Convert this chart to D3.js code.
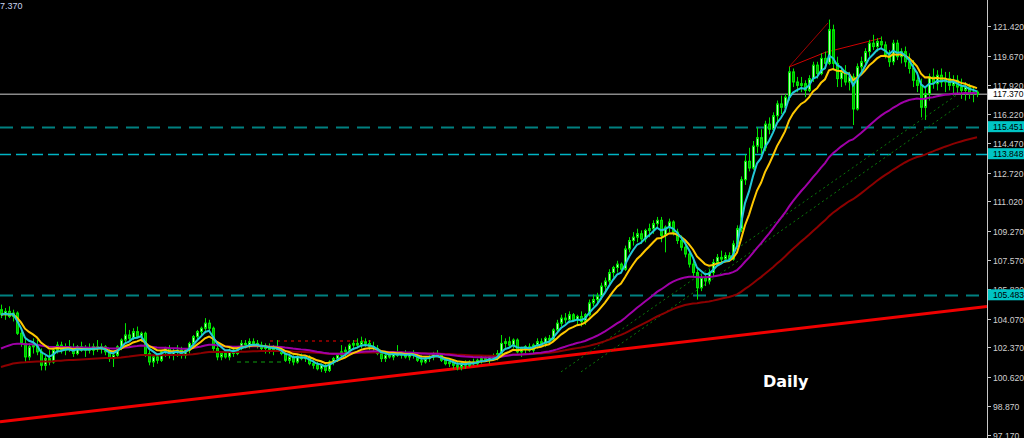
<!DOCTYPE html>
<html><head><meta charset="utf-8">
<script src="https://cdn.jsdelivr.net/npm/d3@7"></script>
<style>html,body{margin:0;padding:0;background:#000;}svg{display:block;}</style>
</head><body>
<script>
// ---------------- DATA ----------------
const opens = [104.6,104.3,104.5,104.2,104.4,103.2,102.6,101.8,102.4,102.5,102.1,101.3,101.7,101.5,102.2,102.5,102.2,102.4,102.3,102.0,102.4,102.2,102.3,102.2,102.4,
102.3,102.4,102.1,101.7,101.9,102.4,102.8,103.1,102.9,103.3,103.0,103.2,102.0,101.5,101.8,101.6,102.1,102.3,101.9,102.1,102.2,101.9,102.2,102.6,103.0,
103.3,103.5,103.8,103.5,102.3,101.8,102.0,101.8,102.2,102.0,102.3,102.6,102.5,102.7,102.6,102.5,102.3,102.4,102.2,102.3,102.2,102.0,101.6,101.8,101.5,
101.8,101.7,101.8,101.4,101.3,101.1,101.3,101.0,101.5,101.7,101.9,102.1,102.2,102.5,102.6,102.5,102.7,102.6,102.4,102.3,102.0,101.7,101.9,101.8,102.0,
101.9,102.0,101.8,102.0,101.9,101.6,101.5,101.7,101.8,102.0,101.9,101.6,101.4,101.5,101.3,101.2,101.4,101.3,101.5,101.4,101.6,101.7,101.6,101.8,101.7,
102.0,102.6,102.7,102.5,102.8,102.1,102.3,102.4,102.2,102.5,102.7,102.6,102.9,102.8,103.4,103.8,104.1,104.0,104.3,104.0,104.2,103.9,104.3,105.0,105.2,
105.4,106.0,106.3,106.8,107.1,107.3,107.0,108.2,108.7,108.9,109.1,108.8,109.3,109.4,109.7,109.9,109.0,109.5,109.8,109.2,108.7,108.3,107.9,107.3,106.8,
105.9,106.5,106.3,106.8,107.4,107.7,107.6,107.8,107.6,108.5,109.4,112.3,113.4,113.0,114.3,114.8,114.2,115.6,115.3,116.1,116.8,116.6,117.2,118.7,118.1,
117.9,118.0,117.6,118.3,119.1,118.6,119.5,119.2,121.2,119.2,118.3,118.7,118.1,118.4,116.5,119.0,119.3,119.9,120.4,120.2,120.5,120.3,119.7,119.3,120.4,
119.6,119.9,119.3,118.9,118.2,117.9,116.6,117.4,118.4,118.0,118.5,118.1,118.3,117.9,118.2,117.8,117.6,117.8,117.4,117.5];
const highs = [104.9,104.7,104.8,104.6,104.5,103.4,102.9,102.6,102.9,102.8,102.3,101.9,102.2,102.4,102.7,102.7,102.6,102.8,102.6,102.5,102.7,102.5,102.6,102.6,102.8,
102.6,102.5,102.3,102.0,102.5,102.9,103.8,103.4,103.5,103.6,103.3,103.3,102.2,101.9,102.0,102.2,102.4,102.5,102.3,102.5,102.4,102.3,102.7,103.1,103.4,
103.6,104.1,104.0,103.6,102.5,102.1,102.2,102.3,102.4,102.4,102.8,102.8,102.9,102.9,102.8,102.7,102.6,102.6,102.5,102.8,102.4,102.1,102.0,101.9,101.9,
102.0,101.9,101.9,101.6,101.5,101.4,101.4,101.6,101.8,102.0,102.5,102.4,102.6,102.8,102.9,103.0,102.9,102.8,102.7,102.5,102.1,102.0,102.1,102.1,102.5,
102.1,102.2,102.1,102.2,102.0,101.9,101.8,101.9,102.1,102.2,102.0,101.8,101.7,101.6,101.5,101.5,101.6,101.6,101.7,101.7,101.9,101.9,101.9,102.0,102.2,
103.1,102.9,103.0,102.9,102.9,102.4,102.5,102.6,102.6,102.9,102.9,103.0,103.1,103.5,104.0,104.3,104.4,104.5,104.4,104.3,104.5,104.4,105.2,105.5,105.6,
106.2,106.5,107.0,107.2,107.5,107.4,108.4,108.9,109.2,109.4,109.3,109.4,109.7,109.9,110.1,110.1,109.6,110.0,109.9,109.4,109.0,108.6,108.1,107.6,107.0,
106.7,106.8,107.0,107.6,107.9,108.1,108.0,108.0,108.7,109.6,112.5,113.8,114.2,114.6,115.4,115.3,115.8,116.0,116.3,117.0,117.3,117.4,119.0,118.9,118.4,
118.4,118.2,118.5,119.3,119.3,119.8,119.9,121.8,121.5,119.6,119.0,119.1,118.7,118.6,119.2,119.6,120.1,120.6,120.9,120.7,120.8,120.5,120.0,120.6,120.6,
120.1,120.2,119.8,119.4,118.7,118.3,117.8,118.6,118.9,118.8,118.9,118.7,118.7,118.5,118.5,118.3,118.1,118.0,117.8,117.6];
const lows = [104.1,104.0,104.1,103.9,103.1,102.4,101.5,101.6,102.0,101.9,101.0,101.0,101.3,101.4,102.0,102.0,101.9,102.1,101.8,101.9,102.1,101.8,102.0,101.9,102.1,
102.0,101.9,101.5,101.2,101.8,102.2,102.6,102.7,102.8,102.9,102.7,101.8,101.3,101.2,101.4,101.5,101.8,101.7,101.6,101.8,101.7,101.7,102.0,102.4,102.8,
103.0,103.2,103.3,102.1,101.6,101.6,101.7,101.6,101.8,101.9,102.2,102.3,102.3,102.4,102.3,102.1,102.0,102.0,101.9,102.1,101.9,101.5,101.4,101.3,101.4,
101.6,101.5,101.3,101.1,101.0,100.9,100.85,100.9,101.3,101.5,101.7,101.8,102.0,102.2,102.3,102.3,102.4,102.2,102.1,101.9,101.5,101.5,101.7,101.6,101.8,
101.7,101.7,101.6,101.7,101.5,101.3,101.4,101.5,101.6,101.8,101.5,101.3,101.2,101.1,101.0,101.0,101.1,101.2,101.3,101.3,101.4,101.5,101.4,101.6,101.6,
101.9,102.3,102.4,102.3,102.0,101.8,102.0,102.1,102.0,102.3,102.4,102.4,102.6,102.7,103.2,103.6,103.8,103.8,103.9,103.7,103.6,103.7,104.2,104.8,104.9,
105.2,105.7,106.1,106.5,106.8,106.9,106.9,108.0,108.4,108.6,108.5,108.6,108.9,109.1,109.4,108.6,108.0,109.2,109.0,108.5,108.1,107.7,107.1,106.6,105.2,
105.7,106.0,106.1,106.6,107.2,107.3,107.4,107.5,107.5,108.3,109.2,112.0,112.8,112.9,113.9,113.8,114.0,115.0,115.1,115.7,116.2,116.3,117.0,117.8,117.5,
117.5,117.2,117.5,118.1,118.3,118.5,118.9,119.1,118.8,117.8,117.8,117.9,117.6,115.55,116.4,118.6,119.0,119.6,120.0,119.9,120.1,119.5,119.0,119.1,119.4,
119.2,119.0,118.6,117.8,117.5,116.0,115.85,117.0,117.7,117.6,117.8,117.5,117.6,117.3,117.4,117.1,117.0,117.1,116.9,117.2];
const closes = [104.3,104.5,104.2,104.4,103.2,102.6,101.8,102.4,102.5,102.1,101.3,101.7,101.5,102.2,102.5,102.2,102.4,102.3,102.0,102.4,102.2,102.3,102.2,102.4,102.3,
102.4,102.1,101.7,101.9,102.4,102.8,103.1,102.9,103.3,103.0,103.2,102.0,101.5,101.8,101.6,102.1,102.3,101.9,102.1,102.2,101.9,102.2,102.6,103.0,103.3,
103.5,103.8,103.5,102.3,101.8,102.0,101.8,102.2,102.0,102.3,102.6,102.5,102.7,102.6,102.5,102.3,102.4,102.2,102.3,102.2,102.0,101.6,101.8,101.5,101.8,
101.7,101.8,101.4,101.3,101.1,101.3,101.0,101.5,101.7,101.9,102.1,102.2,102.5,102.6,102.5,102.7,102.6,102.4,102.3,102.0,101.7,101.9,101.8,102.0,101.9,
102.0,101.8,102.0,101.9,101.6,101.5,101.7,101.8,102.0,101.9,101.6,101.4,101.5,101.3,101.2,101.4,101.3,101.5,101.4,101.6,101.7,101.6,101.8,101.7,102.0,
102.6,102.7,102.5,102.8,102.1,102.3,102.4,102.2,102.5,102.7,102.6,102.9,102.8,103.4,103.8,104.1,104.0,104.3,104.0,104.2,103.9,104.3,105.0,105.2,105.4,
106.0,106.3,106.8,107.1,107.3,107.0,108.2,108.7,108.9,109.1,108.8,109.3,109.4,109.7,109.9,109.0,109.5,109.8,109.2,108.7,108.3,107.9,107.3,106.8,105.9,
106.5,106.3,106.8,107.4,107.7,107.6,107.8,107.6,108.5,109.4,112.3,113.4,113.0,114.3,114.8,114.2,115.6,115.3,116.1,116.8,116.6,117.2,118.7,118.1,117.9,
118.0,117.6,118.3,119.1,118.6,119.5,119.2,121.2,119.2,118.3,118.7,118.1,118.4,116.5,119.0,119.3,119.9,120.4,120.2,120.5,120.3,119.7,119.3,120.4,119.6,
119.9,119.3,118.9,118.2,117.9,116.6,117.4,118.4,118.0,118.5,118.1,118.3,117.9,118.2,117.8,117.6,117.8,117.4,117.5,117.37];

const yTicks = [121.420,119.670,117.920,116.220,114.470,112.720,111.020,109.270,107.570,105.820,104.070,102.370,100.620,98.870,97.170];
const bidPrice = 117.370;
const levels = [115.451, 113.848, 105.483];
const maPeriods = [5, 10, 45, 90];          // cyan, yellow, purple, dark red
const maStart = [104.3, 104.3, 102.3, 101.2]; // indicator values at the first visible bar
const mainTrend = [[-0.25, 97.95], [246.5, 104.79]];
const topTrends = [[[197, 118.99], [206.75, 121.6]], [[197, 118.99], [206, 119.85]], [[206, 119.85], [220.25, 120.71]]];
const greenFan = [[[140, 100.91], [240, 117.51]], [[145, 100.91], [240, 116.8]]];
const redDotted = [[67.25, 102.75], [93, 102.75]];
const greenDashed = [[59, 101.5], [71, 101.5]];
const periodLabel = "Daily";

// ---------------- CHART ----------------
const W = 1024, H = 438, axisX = 987;
const svg = d3.select("body").append("svg").attr("width", W).attr("height", H);
svg.append("rect").attr("width", W).attr("height", H).attr("fill", "#000");

const x = d3.scaleLinear().domain([0, closes.length - 1]).range([1, 977]);
const y = d3.scaleLinear().domain([121.42, 97.17]).range([26, 435]);

svg.append("clipPath").attr("id", "plot").append("rect").attr("x", 0).attr("y", 0).attr("width", axisX).attr("height", H);
const g = svg.append("g").attr("clip-path", "url(#plot)");
const line = d3.line().x(d => x(d[0])).y(d => y(d[1]));

// main red trend line
g.append("path").attr("d", line(mainTrend)).attr("stroke", "#f00000").attr("stroke-width", 3).attr("fill", "none");

// horizontal levels
const lvlStyle = [{c: "#008080", w: 2, d: "13,8"}, {c: "#00b4c4", w: 1.5, d: "11,5"}, {c: "#008080", w: 2, d: "13,8"}];
levels.forEach((p, k) => {
  g.append("line").attr("x1", 0).attr("x2", axisX).attr("y1", Math.round(y(p)) + 0.5).attr("y2", Math.round(y(p)) + 0.5)
    .attr("stroke", lvlStyle[k].c).attr("stroke-width", lvlStyle[k].w).attr("stroke-dasharray", lvlStyle[k].d);
});

// small objects
greenFan.forEach(s => g.append("path").attr("d", line(s)).attr("stroke", "#0a7a0a").attr("stroke-width", 1).attr("stroke-dasharray", "2,3").attr("fill", "none"));
g.append("path").attr("d", line(redDotted)).attr("stroke", "#7a0000").attr("stroke-width", 2).attr("stroke-dasharray", "3,4").attr("fill", "none");
g.append("path").attr("d", line(greenDashed)).attr("stroke", "#0a6a0a").attr("stroke-width", 1.5).attr("stroke-dasharray", "4,4").attr("fill", "none");
topTrends.forEach((s, k) => g.append("path").attr("d", line(s)).attr("stroke", k === 0 ? "#a00000" : "#d00000").attr("stroke-width", 1).attr("fill", "none"));

// bid line
g.append("line").attr("x1", 0).attr("x2", axisX).attr("y1", y(bidPrice)).attr("y2", y(bidPrice)).attr("stroke", "#8a8a8a").attr("stroke-width", 1.5);

// candles
const idx = d3.range(closes.length);
const cg = g.append("g");
cg.selectAll("line.wick").data(idx).join("line")
  .attr("x1", i => Math.round(x(i)) + 0.5).attr("x2", i => Math.round(x(i)) + 0.5)
  .attr("y1", i => y(highs[i])).attr("y2", i => y(lows[i]))
  .attr("stroke", "#00e600").attr("stroke-width", 1);
cg.selectAll("rect.body").data(idx).join("rect")
  .attr("x", i => Math.round(x(i)) - 0.5).attr("width", 2)
  .attr("y", i => y(Math.max(opens[i], closes[i])))
  .attr("height", i => Math.max(1, Math.abs(y(opens[i]) - y(closes[i]))))
  .attr("fill", i => closes[i] >= opens[i] ? "#b0ffb0" : "#00b400")
  .attr("stroke", "#00e600").attr("stroke-width", 1);

// moving averages
function ema(vals, n, start) {
  const a = 2 / (n + 1); const out = []; let e = start;
  vals.forEach((v, i) => { if (i > 0) e = e + a * (v - e); out.push([i, e]); });
  return out;
}
const maColors = ["#22c8d8", "#ffc800", "#a000a8", "#8c0000"];
[3, 2, 1, 0].forEach(k => {
  g.append("path").attr("d", line(ema(closes, maPeriods[k], maStart[k])))
    .attr("stroke", maColors[k]).attr("stroke-width", 2).attr("fill", "none");
});

// label text
svg.append("text").attr("x", 763).attr("y", 387).text(periodLabel)
  .attr("fill", "#ffffff").attr("font-family", "DejaVu Sans").attr("font-weight", "bold").attr("font-size", 16);
svg.append("text").attr("x", 0).attr("y", 9).text("7.370")
  .attr("fill", "#c8d4f0").attr("font-family", "Liberation Sans, Arial").attr("font-size", 9);

// axis
svg.append("line").attr("x1", axisX + 0.5).attr("x2", axisX + 0.5).attr("y1", 0).attr("y2", H).attr("stroke", "#c8c8c8");
const ag = svg.append("g");
yTicks.forEach(t => {
  const yy = Math.round(y(t)) + 0.5;
  ag.append("line").attr("x1", axisX + 1).attr("x2", axisX + 4).attr("y1", yy).attr("y2", yy).attr("stroke", "#c8c8c8");
  ag.append("text").attr("x", 993).attr("y", yy + 3).text(t.toFixed(3))
    .attr("fill", "#d0d0d0").attr("font-family", "Liberation Sans, Arial").attr("font-size", 8.6);
});
function box(p, bg) {
  const yy = y(p);
  ag.append("rect").attr("x", axisX + 1).attr("y", yy - 5.5).attr("width", W - axisX - 1).attr("height", 11).attr("fill", bg);
  ag.append("text").attr("x", 993).attr("y", yy + 3).text(p.toFixed(3))
    .attr("fill", "#000").attr("font-family", "Liberation Sans, Arial").attr("font-size", 8.6);
}
box(bidPrice, "#ffffff");
levels.forEach(p => box(p, "#00c4c4"));
</script>
</body></html>
